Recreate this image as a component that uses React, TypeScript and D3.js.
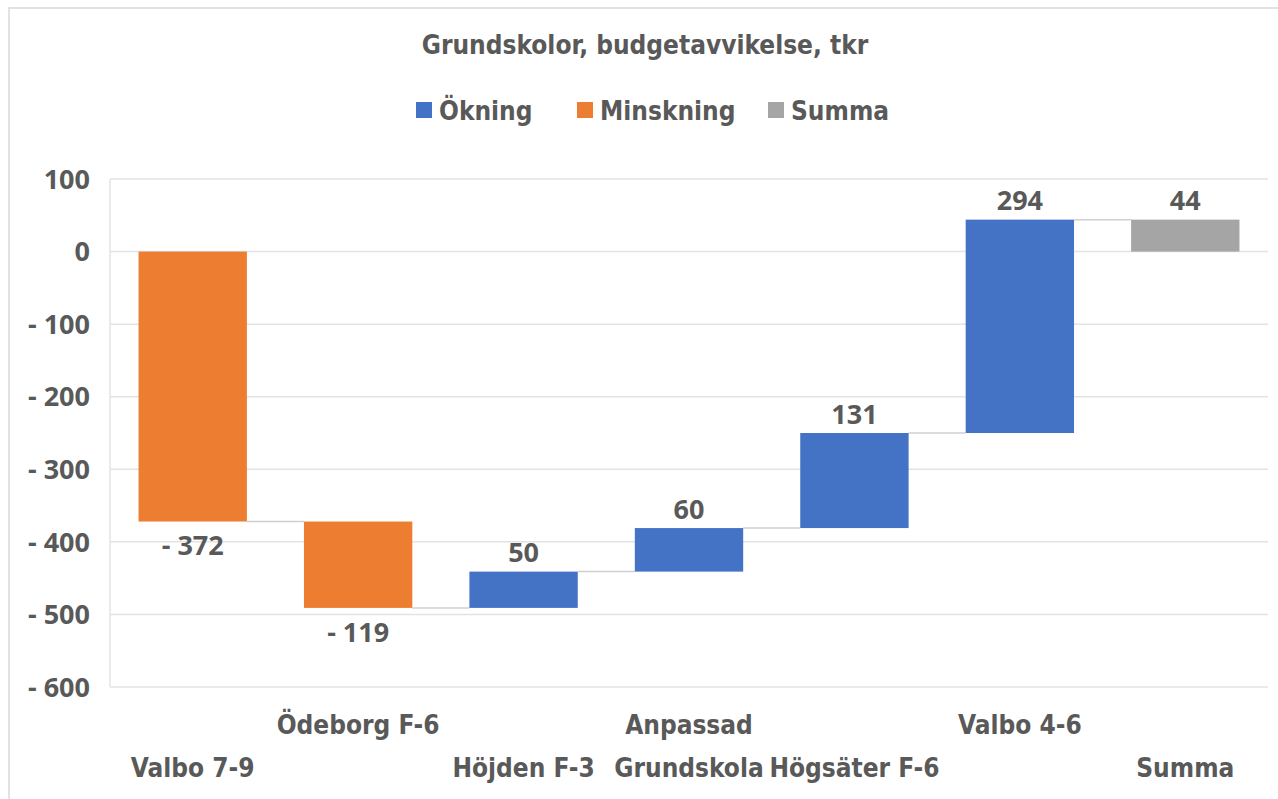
import React from "react";
import * as d3 from "d3";

const categories = ["Valbo 7-9", "Ödeborg F-6", "Höjden F-3", "Anpassad Grundskola", "Högsäter F-6", "Valbo 4-6", "Summa"];
const changes = [-372, -119, 50, 60, 131, 294];
const total = 44;
const yTicks = [100, 0, -100, -200, -300, -400, -500, -600];
const legendItems = ["Ökning", "Minskning", "Summa"];

const BLUE = "#4472C4";
const ORANGE = "#ED7D31";
const GRAY = "#A5A5A5";
const TEXT = "#595959";
const GRID = "#E3E3E3";
const narrow = "'Liberation Sans Narrow', 'DejaVu Sans Condensed', sans-serif";
const wide = "'Open Sans', 'DejaVu Sans', sans-serif";

const fmt = (v: number) => (v < 0 ? "- " + Math.abs(v) : String(v));

const App = () => {
  const width = 1278;
  const height = 799;
  const plot = { left: 110, right: 1268, top: 179, bottom: 687 };

  const x = d3
    .scaleBand()
    .domain(categories)
    .range([plot.left, plot.right])
    .paddingInner(0.345)
    .paddingOuter(0.1725);

  const y = d3.scaleLinear().domain([-600, 100]).range([plot.bottom, plot.top]);

  // waterfall segments: each bar starts where the previous one ended
  let run = 0;
  const bars = changes.map((v, i) => {
    const start = run;
    run += v;
    return { name: categories[i], start, end: run, value: v, color: v < 0 ? ORANGE : BLUE };
  });
  bars.push({ name: categories[6], start: 0, end: total, value: total, color: GRAY });

  const bw = x.bandwidth();

  return (
    <svg
      width={width}
      height={height}
      style={{ position: "absolute", left: 0, top: 0, background: "#fff" }}
    >
      <rect x={9} y={8} width={width + 10} height={height + 10} fill="#fff" stroke="#D9D9D9" strokeWidth={1.5} />

      <text x={645} y={54} textAnchor="middle" fontFamily={narrow} fontWeight="bold" fontSize={26} fill={TEXT}>
        Grundskolor, budgetavvikelse, tkr
      </text>

      {/* legend */}
      {legendItems.map((name, i) => {
        const lx = [416, 577, 768][i];
        const col = [BLUE, ORANGE, GRAY][i];
        return (
          <g key={name}>
            <rect x={lx} y={102} width={16} height={16} fill={col} />
            <text x={lx + 23} y={120} fontFamily={narrow} fontWeight="bold" fontSize={26} fill={TEXT}>
              {name}
            </text>
          </g>
        );
      })}

      {/* grid + y ticks */}
      {yTicks.map((t) => (
        <g key={t}>
          <line x1={plot.left} x2={plot.right} y1={y(t)} y2={y(t)} stroke={GRID} strokeWidth={1.5} />
          <text x={90} y={y(t)} dy="0.36em" textAnchor="end" fontFamily={wide} fontWeight="bold" fontSize={27} fill={TEXT}>
            {fmt(t)}
          </text>
        </g>
      ))}
      <line x1={plot.left} x2={plot.left} y1={y(100)} y2={y(-600)} stroke={GRID} strokeWidth={1.5} />

      {/* connectors */}
      {bars.slice(0, -1).map((b, i) => {
        const next = bars[i + 1];
        return (
          <line
            key={"c" + i}
            x1={(x(b.name) as number) + bw}
            x2={x(next.name) as number}
            y1={y(b.end)}
            y2={y(b.end)}
            stroke="#D0D0D0"
            strokeWidth={1.5}
          />
        );
      })}

      {/* bars */}
      {bars.map((b) => (
        <rect
          key={b.name}
          x={x(b.name)}
          y={y(Math.max(b.start, b.end))}
          width={bw}
          height={Math.abs(y(b.start) - y(b.end))}
          fill={b.color}
        />
      ))}

      {/* value labels */}
      {bars.map((b) => {
        const cx = (x(b.name) as number) + bw / 2;
        const neg = b.value < 0;
        const ly = neg ? y(Math.min(b.start, b.end)) + 24 : y(Math.max(b.start, b.end)) - 19;
        return (
          <text key={"v" + b.name} x={cx} y={ly} dy="0.36em" textAnchor="middle" fontFamily={wide} fontWeight="bold" fontSize={27} fill={TEXT}>
            {fmt(b.value)}
          </text>
        );
      })}

      {/* category labels, staggered in two rows */}
      {categories.map((c, i) => {
        const cx = (x(c) as number) + bw / 2;
        const words = c === "Anpassad Grundskola" ? c.split(" ") : [c];
        const baseY = i % 2 === 0 ? 777 : 734;
        return (
          <text key={"x" + c} x={cx} textAnchor="middle" fontFamily={narrow} fontWeight="bold" fontSize={26} fill={TEXT}>
            {words.map((w, k) => (
              <tspan key={w} x={cx} y={baseY + k * 43}>
                {w}
              </tspan>
            ))}
          </text>
        );
      })}
    </svg>
  );
};

export default App;
